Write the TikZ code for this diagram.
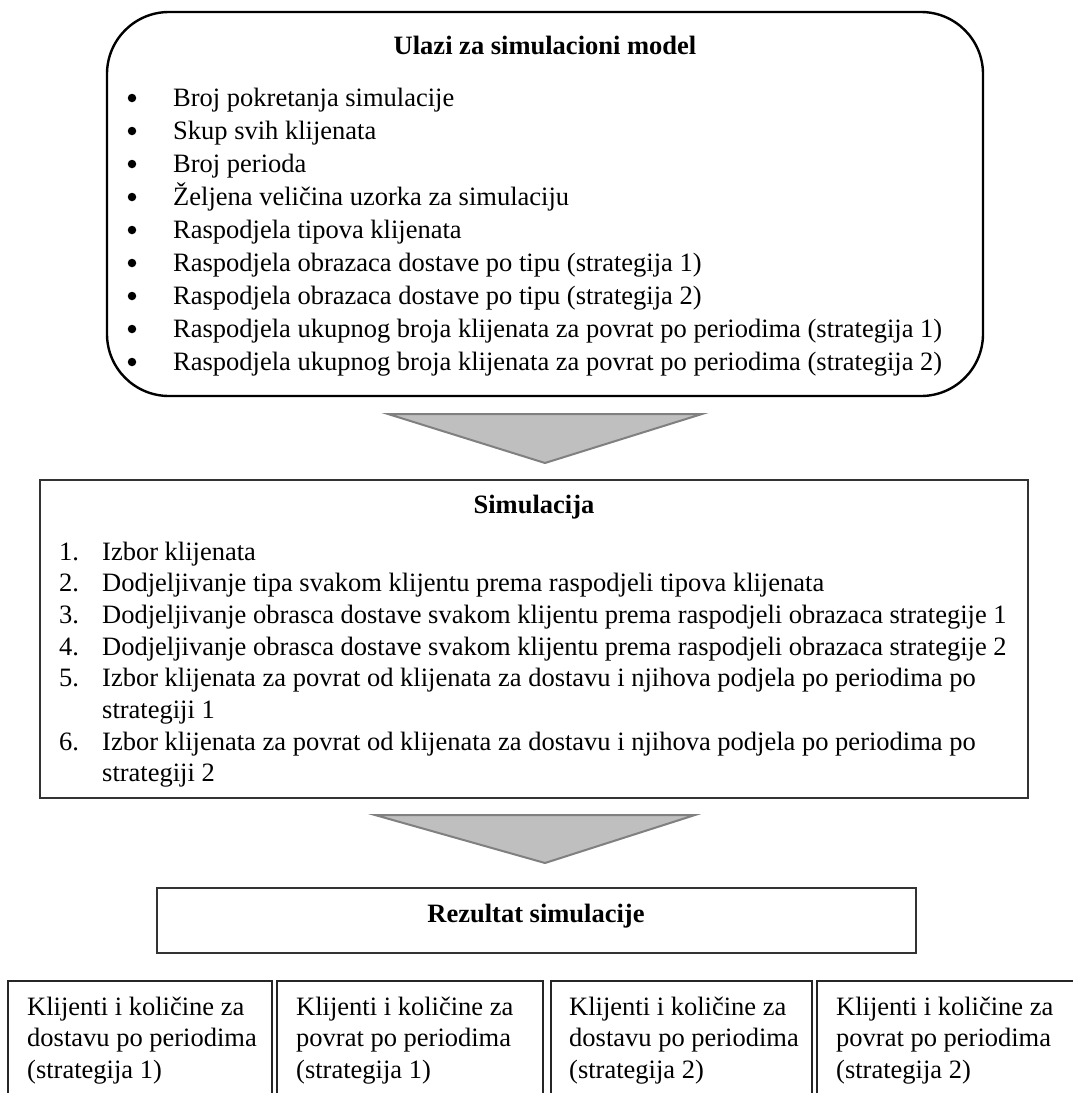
\documentclass[tikz,border=0pt]{standalone}
\usepackage{fontspec}
\setmainfont{Liberation Serif}
\begin{document}
\begin{tikzpicture}[x=1pt,y=-1pt,
  txt/.style={anchor=base west,inner sep=0pt,font=\fontsize{26.5}{33}\selectfont},
  ttl/.style={anchor=base,inner sep=0pt,font=\fontsize{26.5}{33}\selectfont\bfseries},
  bulletdot/.style={circle,fill=black,inner sep=0pt,minimum size=8.5pt},
  arrowtri/.style={fill=black!25,draw=black!50,line width=2pt,line join=miter},
  plainbox/.style={draw=black!80,line width=1.4pt,inner sep=0pt},
  outbox/.style={draw=black!85,line width=1.3pt}]
\useasboundingbox (0,0) rectangle (1073,1093);
\clip (0,0) rectangle (1073,1093);
\fill[white] (0,0) rectangle (1073,1093);
% input box
\node[draw=black,line width=2.4pt,rounded corners=62pt,minimum width=876pt,minimum height=384pt,inner sep=0pt] (inputs) at (545,204) {};
\node[ttl] (t1) at (545,54) {Ulazi za simulacioni model};
\foreach \i/\s in {0/Broj pokretanja simulacije,1/Skup svih klijenata,2/Broj perioda,3/Željena veličina uzorka za simulaciju,4/Raspodjela tipova klijenata,5/Raspodjela obrazaca dostave po tipu (strategija 1),6/Raspodjela obrazaca dostave po tipu (strategija 2),7/Raspodjela ukupnog broja klijenata za povrat po periodima (strategija 1),8/Raspodjela ukupnog broja klijenata za povrat po periodima (strategija 2)}{
  \node[bulletdot] (b\i) at (132,98+33*\i) {};
  \node[txt] (l\i) at (173,106+33*\i) {\s};
}
% arrow 1
\path[arrowtri] (388,414) -- (702,414) -- (545,463) -- cycle;
% simulation box
\node[plainbox,minimum width=988pt,minimum height=318pt] (sim) at (534,639) {};
\node[ttl] (t2) at (534,513) {Simulacija};
\foreach \i/\n/\y/\s in {1/1./560/Izbor klijenata,2/2./591.7/Dodjeljivanje tipa svakom klijentu prema raspodjeli tipova klijenata,3/3./623.4/Dodjeljivanje obrasca dostave svakom klijentu prema raspodjeli obrazaca strategije 1,4/4./655.1/Dodjeljivanje obrasca dostave svakom klijentu prema raspodjeli obrazaca strategije 2,5/5./686.8/Izbor klijenata za povrat od klijenata za dostavu i njihova podjela po periodima po,7/6./750.2/Izbor klijenata za povrat od klijenata za dostavu i njihova podjela po periodima po}{
  \node[txt] (n\i) at (59,\y) {\n};
  \node[txt] (s\i) at (102,\y) {\s};
}
\node[txt] (s6) at (102,718.5) {strategiji 1};
\node[txt] (s8) at (102,781.9) {strategiji 2};
% arrow 2
\path[arrowtri] (375,815) -- (695,815) -- (545,863) -- cycle;
% result box
\node[plainbox,minimum width=759pt,minimum height=65pt] (res) at (536.5,920.5) {};
\node[ttl] (t3) at (536,922) {Rezultat simulacije};
% output boxes
\draw[outbox] (8,1100) |- (272,981) -- (272,1100);
\draw[outbox] (277,1100) |- (543,981) -- (543,1100);
\draw[outbox] (551,1100) |- (812,981) -- (812,1100);
\draw[outbox] (817,1100) |- (1080,981);
\foreach \k/\x/\a/\b in {1/27/dostavu/1,2/296/povrat/1,3/569/dostavu/2,4/836/povrat/2}{
  \node[txt] (o\k a) at (\x,1015) {Klijenti i količine za};
  \node[txt] (o\k b) at (\x,1046.5) {\a\ po periodima};
  \node[txt] (o\k c) at (\x,1078) {(strategija \b)};
}
\end{tikzpicture}
\end{document}
